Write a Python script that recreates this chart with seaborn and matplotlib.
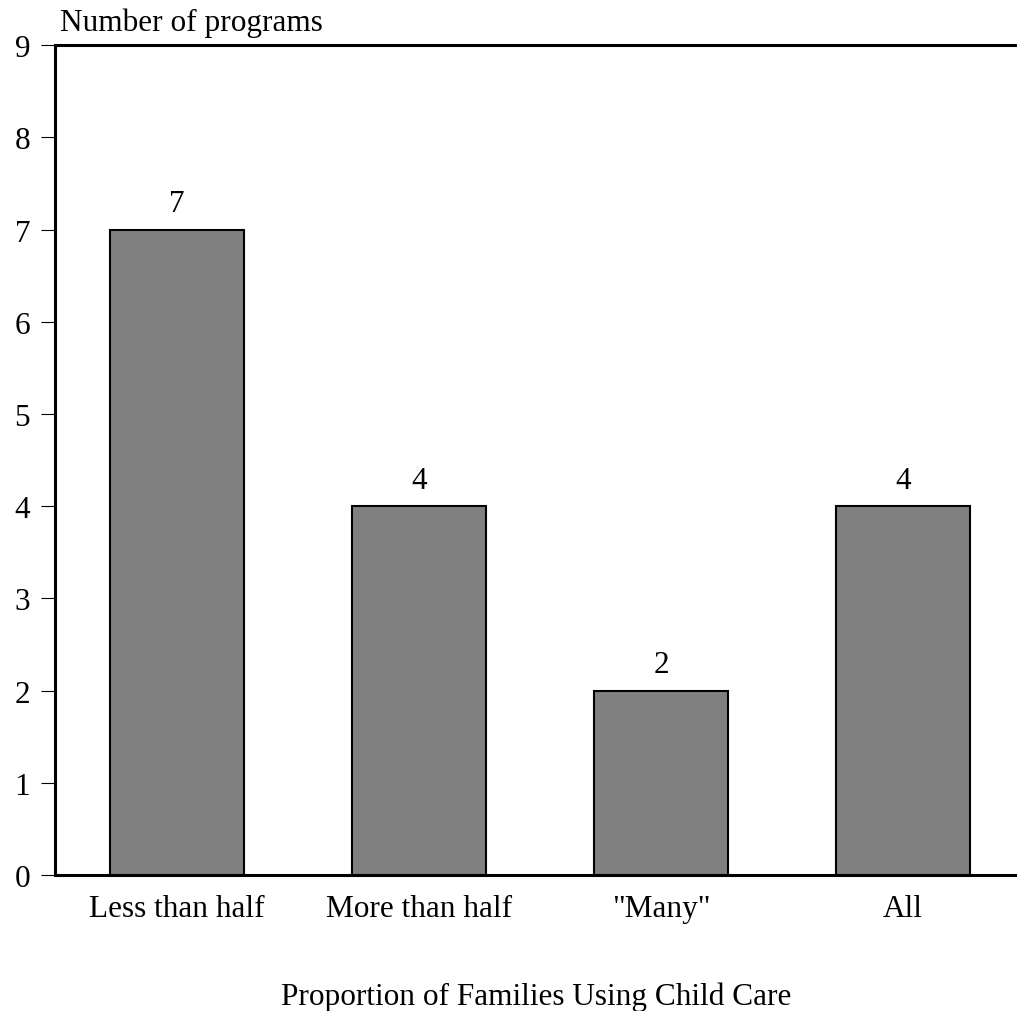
import pandas as pd
import matplotlib
matplotlib.use("Agg")
import matplotlib.pyplot as plt
import seaborn as sb

# data
categories = ['Less than half', 'More than half', '"Many"', 'All']
programs = [7, 4, 2, 4]
y_ticks = list(range(0, 10))

df = pd.DataFrame({'Proportion': categories, 'Programs': programs})

sb.set_style("white")
plt.rcParams['font.family'] = ['Liberation Serif', 'DejaVu Serif']
plt.rcParams['text.color'] = 'black'
plt.rcParams['xtick.color'] = 'black'
plt.rcParams['ytick.color'] = 'black'
plt.rcParams['axes.labelcolor'] = 'black'

fs = 22.5

fig = plt.figure(figsize=(10.17, 10.12), dpi=100)
ax = fig.add_axes([0.0541, 0.1344, 0.946, 0.820])

sb.barplot(x='Proportion', y='Programs', data=df, color='#808080', saturation=1,
           width=0.554, edgecolor='black', linewidth=1.5, ax=ax)

# value labels above bars
for container in ax.containers:
    ax.bar_label(container, fontsize=fs, padding=8, color='black')

ax.set_ylim(0, 9)
ax.set_xlim(-0.504, 3.471)
ax.set_yticks(y_ticks)
ax.set_yticklabels([str(t) for t in y_ticks], fontsize=fs)
ax.tick_params(axis='y', left=True, length=10, width=0.8, pad=8)
ax.tick_params(axis='x', bottom=False, labelsize=fs, pad=10)

ax.set_xlabel('Proportion of Families Using Child Care', fontsize=fs, labelpad=42)
ax.set_ylabel('')
ax.text(0.005, 1.01, 'Number of programs', transform=ax.transAxes, fontsize=fs,
        ha='left', va='bottom')

for side in ['left', 'bottom', 'top']:
    ax.spines[side].set_linewidth(2.2)
    ax.spines[side].set_color('black')
ax.spines['right'].set_visible(False)

plt.savefig('out.png', dpi=100)
